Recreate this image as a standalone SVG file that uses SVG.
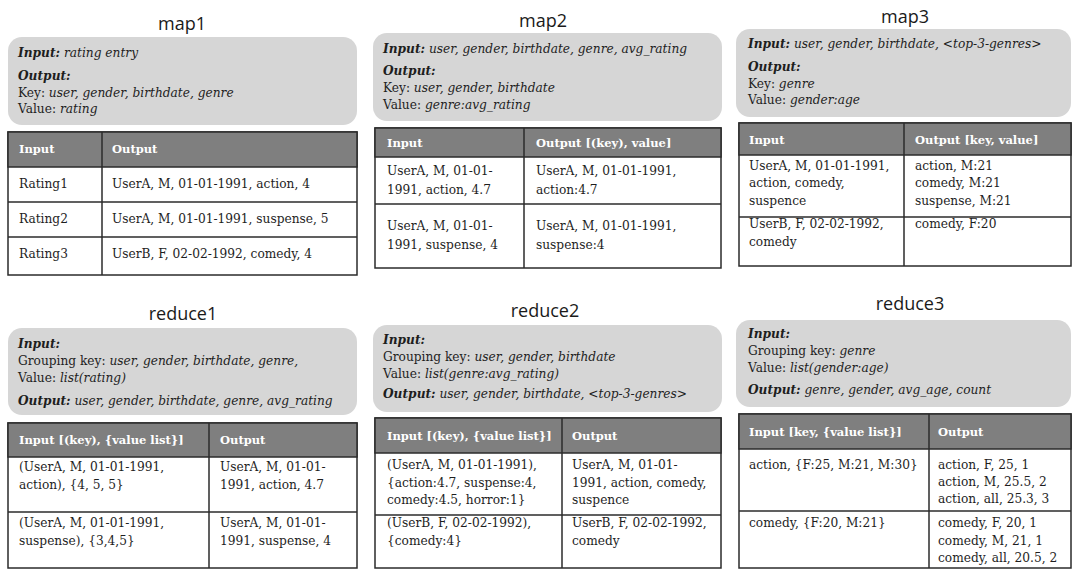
<svg xmlns="http://www.w3.org/2000/svg" width="1073" height="570" viewBox="0 0 1073 570">
<style>
.bg{fill:#ffffff}
.title{font-family:"Open Sans","Liberation Sans",sans-serif;font-size:18px;fill:#1a1a1a;text-anchor:middle}
.box{fill:#d6d6d6}
.t{font-family:"DejaVu Serif","Liberation Serif",serif;font-size:12.2px;fill:#1e1e1e}
.i{font-style:italic}
.bi{font-weight:bold;font-style:italic}
.tbl{fill:#ffffff;stroke:#2b2b2b;stroke-width:1.5}
.hdr{fill:#7f7f7f;stroke:#2b2b2b;stroke-width:1.5}
.ln{stroke:#2b2b2b;stroke-width:1.5}
.ht{font-family:"DejaVu Serif","Liberation Serif",serif;font-size:11.5px;font-weight:bold;fill:#ffffff}
</style>
<rect class="bg" x="0" y="0" width="1073" height="570"/>

<g id="map1">
<text class="title" x="182" y="30">map1</text>
<rect class="box" x="8" y="37" width="349" height="88" rx="14"/>
<text class="t" x="18" y="57"><tspan class="bi">Input:</tspan><tspan class="i"> rating entry</tspan></text>
<text class="t" x="18" y="80"><tspan class="bi">Output:</tspan></text>
<text class="t" x="18" y="97">Key: <tspan class="i">user, gender, birthdate, genre</tspan></text>
<text class="t" x="18" y="113">Value: <tspan class="i">rating</tspan></text>
<rect class="tbl" x="8" y="132" width="349" height="143"/>
<rect class="hdr" x="8" y="132" width="349" height="35"/>
<line class="ln" x1="8" y1="202" x2="357" y2="202"/>
<line class="ln" x1="8" y1="237" x2="357" y2="237"/>
<line class="ln" x1="102" y1="132" x2="102" y2="275"/>
<text class="ht" x="19" y="153">Input</text>
<text class="ht" x="112" y="153">Output</text>
<text class="t" x="19" y="188">Rating1</text>
<text class="t" x="112" y="188">UserA, M, 01-01-1991, action, 4</text>
<text class="t" x="19" y="223">Rating2</text>
<text class="t" x="112" y="223">UserA, M, 01-01-1991,  suspense, 5</text>
<text class="t" x="19" y="258">Rating3</text>
<text class="t" x="112" y="258">UserB, F, 02-02-1992, comedy, 4</text>
</g>

<g id="map2">
<text class="title" x="543" y="27">map2</text>
<rect class="box" x="373" y="33" width="349" height="88" rx="14"/>
<text class="t" x="383" y="53"><tspan class="bi">Input:</tspan><tspan class="i"> user, gender, birthdate, genre, avg_rating</tspan></text>
<text class="t" x="383" y="75"><tspan class="bi">Output:</tspan></text>
<text class="t" x="383" y="92">Key: <tspan class="i">user, gender, birthdate</tspan></text>
<text class="t" x="383" y="109">Value: <tspan class="i">genre:avg_rating</tspan></text>
<rect class="tbl" x="375" y="128" width="346" height="140"/>
<rect class="hdr" x="375" y="128" width="346" height="29"/>
<line class="ln" x1="375" y1="204" x2="721" y2="204"/>
<line class="ln" x1="524" y1="128" x2="524" y2="268"/>
<text class="ht" x="387" y="147">Input</text>
<text class="ht" x="536" y="147">Output  [(key), value]</text>
<text class="t" x="387" y="175">UserA, M, 01-01-</text>
<text class="t" x="387" y="194">1991, action, 4.7</text>
<text class="t" x="536" y="175">UserA, M, 01-01-1991,</text>
<text class="t" x="536" y="194">action:4.7</text>
<text class="t" x="387" y="230">UserA, M, 01-01-</text>
<text class="t" x="387" y="249">1991, suspense, 4</text>
<text class="t" x="536" y="230">UserA, M, 01-01-1991,</text>
<text class="t" x="536" y="249">suspense:4</text>
</g>

<g id="map3">
<text class="title" x="905" y="23">map3</text>
<rect class="box" x="736" y="29" width="335" height="88" rx="14"/>
<text class="t" x="748" y="48"><tspan class="bi">Input:</tspan><tspan class="i"> user, gender, birthdate, &lt;top-3-genres&gt;</tspan></text>
<text class="t" x="748" y="71"><tspan class="bi">Output:</tspan></text>
<text class="t" x="748" y="88">Key: <tspan class="i">genre</tspan></text>
<text class="t" x="748" y="104">Value: <tspan class="i">gender:age</tspan></text>
<rect class="tbl" x="739" y="123" width="332" height="143"/>
<rect class="hdr" x="739" y="123" width="332" height="32"/>
<line class="ln" x1="739" y1="217" x2="1071" y2="217"/>
<line class="ln" x1="904" y1="123" x2="904" y2="266"/>
<text class="ht" x="749" y="144">Input</text>
<text class="ht" x="915" y="144">Output  [key, value]</text>
<text class="t" x="749" y="170">UserA, M, 01-01-1991,</text>
<text class="t" x="749" y="187">action, comedy,</text>
<text class="t" x="749" y="205">suspence</text>
<text class="t" x="915" y="170">action, M:21</text>
<text class="t" x="915" y="187">comedy, M:21</text>
<text class="t" x="915" y="205">suspense, M:21</text>
<text class="t" x="749" y="228">UserB, F, 02-02-1992,</text>
<text class="t" x="749" y="246">comedy</text>
<text class="t" x="915" y="228">comedy, F:20</text>
</g>

<g id="reduce1">
<text class="title" x="183" y="320">reduce1</text>
<rect class="box" x="8" y="328" width="349" height="87" rx="14"/>
<text class="t" x="18" y="348"><tspan class="bi">Input:</tspan></text>
<text class="t" x="18" y="365">Grouping key: <tspan class="i">user, gender, birthdate, genre,</tspan></text>
<text class="t" x="18" y="382">Value: <tspan class="i">list(rating)</tspan></text>
<text class="t" x="18" y="405"><tspan class="bi">Output:</tspan><tspan class="i"> user, gender, birthdate, genre, avg_rating</tspan></text>
<rect class="tbl" x="8" y="423" width="349" height="145"/>
<rect class="hdr" x="8" y="423" width="349" height="34"/>
<line class="ln" x1="8" y1="512" x2="357" y2="512"/>
<line class="ln" x1="209" y1="423" x2="209" y2="568"/>
<text class="ht" x="19" y="444">Input [(key), {value list}]</text>
<text class="ht" x="220" y="444">Output</text>
<text class="t" x="19" y="471">(UserA, M, 01-01-1991,</text>
<text class="t" x="19" y="489">action), {4, 5, 5}</text>
<text class="t" x="220" y="471">UserA, M, 01-01-</text>
<text class="t" x="220" y="489">1991, action, 4.7</text>
<text class="t" x="19" y="527">(UserA, M, 01-01-1991,</text>
<text class="t" x="19" y="545">suspense), {3,4,5}</text>
<text class="t" x="220" y="527">UserA, M, 01-01-</text>
<text class="t" x="220" y="545">1991, suspense, 4</text>
</g>

<g id="reduce2">
<text class="title" x="545" y="317">reduce2</text>
<rect class="box" x="373" y="325" width="349" height="87" rx="14"/>
<text class="t" x="383" y="344"><tspan class="bi">Input:</tspan></text>
<text class="t" x="383" y="361">Grouping key: <tspan class="i">user, gender, birthdate</tspan></text>
<text class="t" x="383" y="378">Value: <tspan class="i">list(genre:avg_rating)</tspan></text>
<text class="t" x="383" y="398"><tspan class="bi">Output:</tspan><tspan class="i"> user, gender, birthdate, &lt;top-3-genres&gt;</tspan></text>
<rect class="tbl" x="375" y="418" width="346" height="150"/>
<rect class="hdr" x="375" y="418" width="346" height="35"/>
<line class="ln" x1="375" y1="515" x2="721" y2="515"/>
<line class="ln" x1="562" y1="418" x2="562" y2="568"/>
<text class="ht" x="387" y="440">Input [(key), {value list}]</text>
<text class="ht" x="572" y="440">Output</text>
<text class="t" x="387" y="469">(UserA, M, 01-01-1991),</text>
<text class="t" x="387" y="487">{action:4.7, suspense:4,</text>
<text class="t" x="387" y="504">comedy:4.5, horror:1}</text>
<text class="t" x="572" y="469">UserA, M, 01-01-</text>
<text class="t" x="572" y="487">1991, action, comedy,</text>
<text class="t" x="572" y="504">suspence</text>
<text class="t" x="387" y="527">(UserB, F, 02-02-1992),</text>
<text class="t" x="387" y="545">{comedy:4}</text>
<text class="t" x="572" y="527">UserB, F, 02-02-1992,</text>
<text class="t" x="572" y="545">comedy</text>
</g>

<g id="reduce3">
<text class="title" x="910" y="310">reduce3</text>
<rect class="box" x="736" y="320" width="335" height="87" rx="14"/>
<text class="t" x="748" y="338"><tspan class="bi">Input:</tspan></text>
<text class="t" x="748" y="355">Grouping key: <tspan class="i">genre</tspan></text>
<text class="t" x="748" y="372">Value: <tspan class="i">list(gender:age)</tspan></text>
<text class="t" x="748" y="394"><tspan class="bi">Output:</tspan><tspan class="i"> genre, gender, avg_age, count</tspan></text>
<rect class="tbl" x="739" y="414" width="332" height="154"/>
<rect class="hdr" x="739" y="414" width="332" height="35"/>
<line class="ln" x1="739" y1="511" x2="1071" y2="511"/>
<line class="ln" x1="929" y1="414" x2="929" y2="568"/>
<text class="ht" x="749" y="436">Input [key, {value list}]</text>
<text class="ht" x="938" y="436">Output</text>
<text class="t" x="749" y="469">action, {F:25, M:21, M:30}</text>
<text class="t" x="938" y="469">action, F, 25, 1</text>
<text class="t" x="938" y="486">action, M, 25.5, 2</text>
<text class="t" x="938" y="503">action, all, 25.3, 3</text>
<text class="t" x="749" y="527">comedy, {F:20, M:21}</text>
<text class="t" x="938" y="527">comedy, F, 20, 1</text>
<text class="t" x="938" y="545">comedy, M, 21, 1</text>
<text class="t" x="938" y="562">comedy, all, 20.5, 2</text>
</g>
</svg>
